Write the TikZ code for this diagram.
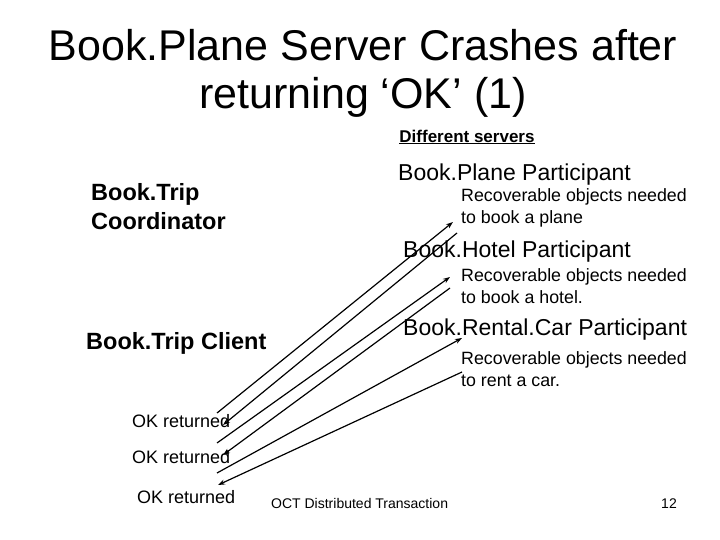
\documentclass[tikz,border=0pt]{standalone}
\usepackage{fontspec}
\setmainfont{Liberation Sans}
\usetikzlibrary{arrows.meta}
\begin{document}
\begin{tikzpicture}[x=1pt,y=-1pt,
  lbl/.style={inner sep=0pt,anchor=west,font=\fontsize{17.8}{22}\selectfont},
  ok/.style={inner sep=0pt,anchor=west,font=\fontsize{18}{20}\selectfont},
  part/.style={inner sep=0pt,anchor=west,font=\fontsize{23}{26}\selectfont},
  msg/.style={line width=1.2pt,-{Stealth[length=7pt,width=5pt]}}]
\useasboundingbox (0,0) rectangle (720,540);
\node (t1) at (363,45) {\fontsize{43}{46}\selectfont Book.Plane Server Crashes after};
\node (t2) at (363,97) {\fontsize{43}{46}\selectfont returning ‘OK’ (1)};
\node[inner sep=0pt] (ds) at (467,137) {\fontsize{17}{19}\selectfont\bfseries\underline{Different servers}};
\node[part] (bp) at (398,175) {Book.Plane Participant};
\node[lbl,align=left] (bpr) at (461,208) {Recoverable objects needed\\to book a plane};
\node[part,font=\fontsize{23.5}{29}\selectfont\bfseries,align=left] (tc) at (91,207) {Book.Trip\\Coordinator};
\node[part] (bh) at (403,252) {Book.Hotel Participant};
\node[lbl,align=left] (bhr) at (461,286) {Recoverable objects needed\\to book a hotel.};
\node[part,font=\fontsize{23.5}{26}\selectfont\bfseries] (cl) at (86,343) {Book.Trip Client};
\node[part] (br) at (403,330) {Book.Rental.Car Participant};
\node[lbl,align=left] (brr) at (461,369) {Recoverable objects needed\\to rent a car.};
\node[ok] (ok1) at (132,421) {OK returned};
\node[ok] (ok2) at (132,457) {OK returned};
\node[ok] (ok3) at (137,497) {OK returned};
\node[inner sep=0pt,anchor=base west] (ft) at (271,508) {\fontsize{14}{16}\selectfont OCT Distributed Transaction};
\node[inner sep=0pt,anchor=base east] (pg) at (677,508) {\fontsize{14}{16}\selectfont 12};
\coordinate (a1) at (217,413); \coordinate (a2) at (453,222);
\coordinate (b1) at (457,233); \coordinate (b2) at (223,425);
\coordinate (c1) at (217,443); \coordinate (c2) at (450,277);
\coordinate (d1) at (450,288); \coordinate (d2) at (223,455);
\coordinate (e1) at (217,473); \coordinate (e2) at (462,338);
\coordinate (f1) at (462,372); \coordinate (f2) at (218,485);
\draw[msg] (a1) -- (a2);
\draw[msg] (b1) -- (b2);
\draw[msg] (c1) -- (c2);
\draw[msg] (d1) -- (d2);
\draw[msg] (e1) -- (e2);
\draw[msg] (f1) -- (f2);
\end{tikzpicture}
\end{document}
